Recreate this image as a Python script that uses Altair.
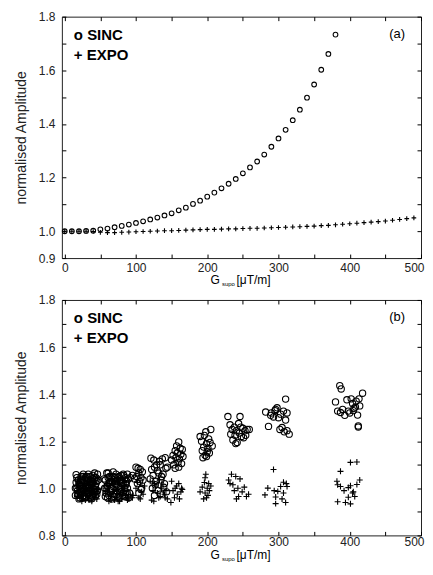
import json
import altair as alt
import pandas as pd

FONT = "Liberation Sans"

# ---------------- panel (a) ----------------
sinc_a_x = [0, 10, 20, 30, 40, 50, 60, 70, 80, 90, 100, 110, 120, 130, 140, 150, 160, 170, 180, 190,
            200, 210, 220, 230, 240, 250, 260, 270, 280, 290, 300, 310, 320, 330, 340, 350, 360, 370, 380]
sinc_a_y = [1.000, 1.000, 1.000, 1.001, 1.002, 1.007, 1.010, 1.015, 1.020, 1.025, 1.031, 1.037, 1.044,
            1.051, 1.059, 1.067, 1.078, 1.088, 1.102, 1.114, 1.129, 1.144, 1.160, 1.177, 1.195, 1.216,
            1.238, 1.260, 1.286, 1.315, 1.346, 1.378, 1.414, 1.453, 1.498, 1.547, 1.602, 1.661, 1.733]
expo_a_x = [0, 10, 20, 30, 40, 50, 60, 70, 80, 90, 100, 110, 120, 130, 140, 150, 160, 170, 180, 190,
            200, 210, 220, 230, 240, 250, 260, 270, 280, 290, 300, 310, 320, 330, 340, 350, 360, 370, 380,
            390, 400, 410, 420, 430, 440, 450, 460, 470, 480, 490]
expo_a_y = [1.000, 1.000, 1.000, 1.000, 0.999, 0.996, 0.995, 0.995, 0.996, 0.997, 0.998, 0.999, 1.000,
            1.001, 1.002, 1.002, 1.003, 1.004, 1.005, 1.006, 1.007, 1.007, 1.008, 1.009, 1.009, 1.010,
            1.011, 1.011, 1.012, 1.013, 1.014, 1.015, 1.016, 1.017, 1.018, 1.019, 1.021, 1.022, 1.024,
            1.026, 1.028, 1.030, 1.032, 1.034, 1.036, 1.038, 1.041, 1.044, 1.047, 1.050]

# ---------------- panel (b): clusters of [x, y] ----------------
sinc_b_20 = [[16, 1.058], [18, 0.99], [20, 1.02], [22, 0.97], [24, 1.04], [26, 1.0], [28, 0.965], [30, 1.03],
             [32, 1.01], [34, 0.98], [36, 1.05], [38, 1.0], [40, 0.975], [42, 1.045], [44, 1.02], [46, 1.06],
             [17, 1.0], [19, 1.035], [21, 0.985], [23, 1.05], [25, 0.96], [27, 1.02], [29, 1.045], [31, 0.99],
             [33, 1.06], [35, 0.97], [37, 1.015], [39, 1.04], [41, 0.995], [43, 0.965], [45, 1.03],
             [16, 1.025], [20, 0.955], [24, 1.005], [28, 0.98], [32, 1.04], [36, 0.96], [40, 1.055], [44, 0.985],
             [18, 0.97], [22, 1.01], [26, 1.05], [30, 0.96], [34, 1.0], [38, 1.03], [42, 1.065], [46, 0.99],
             [21, 1.015], [27, 0.995], [33, 0.975], [39, 1.02],
             [15, 1.0], [19, 0.975], [23, 1.025], [27, 0.97], [31, 1.05], [35, 1.005], [39, 0.965], [43, 1.01],
             [47, 1.035], [17, 1.045], [21, 0.96], [25, 1.035], [29, 1.01], [33, 0.99], [37, 0.955], [41, 1.035],
             [45, 0.975], [15, 0.97], [24, 0.985], [30, 1.0], [36, 1.025], [42, 0.98], [26, 1.06], [34, 1.025],
             [44, 1.045]]
sinc_b_70 = [[56, 1.0], [59, 1.065], [62, 0.97], [65, 1.03], [68, 1.07], [71, 0.99], [74, 1.045], [77, 0.96],
             [80, 1.02], [83, 1.055], [86, 0.985], [89, 1.04], [57, 1.035], [60, 0.96], [63, 1.05], [66, 1.0],
             [69, 0.975], [72, 1.06], [75, 1.01], [78, 1.04], [81, 0.97], [84, 1.0], [87, 1.03], [90, 0.96],
             [58, 0.98], [62, 1.02], [66, 0.955], [70, 1.045], [74, 0.985], [78, 1.0], [82, 1.06], [86, 1.015],
             [92, 1.045], [95, 1.055], [60, 1.01], [65, 0.99], [70, 1.02], [75, 0.965], [80, 1.035], [85, 0.975],
             [55, 1.04], [58, 1.0], [61, 1.045], [64, 0.985], [67, 1.025], [70, 0.965], [73, 1.015], [76, 1.05],
             [79, 0.985], [82, 1.025], [85, 1.045], [88, 1.0], [91, 0.98], [57, 0.965], [63, 1.025], [68, 1.05],
             [73, 0.975], [77, 1.03], [83, 0.965], [88, 1.06], [61, 1.065], [71, 1.03], [79, 1.055], [66, 1.04],
             [86, 1.02]]
sinc_b_105 = [[100, 1.09], [103, 1.085], [106, 1.08], [109, 1.07], [101, 1.05], [104, 1.065], [107, 1.045],
              [110, 1.035], [102, 1.02], [105, 1.03], [108, 1.0], [98, 1.04], [104, 0.98], [107, 0.995]]
sinc_b_130 = [[121, 1.128], [125, 1.12], [129, 1.10], [133, 1.115], [137, 1.125], [141, 1.13], [144, 1.09],
              [122, 1.08], [126, 1.09], [130, 1.075], [134, 1.10], [138, 1.06], [142, 1.085],
              [120, 1.04], [124, 1.055], [128, 1.03], [132, 1.065], [136, 1.05], [140, 1.02],
              [123, 1.0], [127, 1.015], [131, 0.99], [135, 1.035], [139, 1.005], [143, 0.985],
              [126, 0.97], [134, 0.975]]
sinc_b_160 = [[160, 1.197], [157, 1.18], [162, 1.17], [155, 1.16], [165, 1.165], [152, 1.14], [158, 1.15],
              [163, 1.145], [150, 1.12], [156, 1.13], [161, 1.125], [166, 1.135], [153, 1.10], [159, 1.11],
              [164, 1.105], [155, 1.085], [160, 1.09]]
sinc_b_200 = [[205, 1.25], [198, 1.24], [190, 1.22], [196, 1.225], [202, 1.21], [192, 1.2], [199, 1.19],
              [204, 1.195], [195, 1.175], [201, 1.17], [207, 1.18], [193, 1.16], [200, 1.155], [197, 1.14],
              [203, 1.15], [194, 1.13], [199, 1.135]]
sinc_b_240 = [[229, 1.305], [246, 1.305], [232, 1.27], [238, 1.26], [244, 1.275], [250, 1.255], [256, 1.25],
              [235, 1.25], [241, 1.245], [247, 1.26], [253, 1.245], [259, 1.25], [233, 1.23], [239, 1.225],
              [245, 1.235], [251, 1.215], [236, 1.205], [242, 1.195], [248, 1.22], [240, 1.19], [254, 1.225]]
sinc_b_300 = [[282, 1.324], [289, 1.31], [293, 1.303], [296, 1.335], [298, 1.342], [303, 1.315], [307, 1.328],
              [310, 1.379], [312, 1.32], [286, 1.263], [305, 1.258], [310, 1.29], [302, 1.25], [312, 1.245],
              [315, 1.23], [300, 1.30], [308, 1.24], [295, 1.33], [290, 1.32]]
sinc_b_400 = [[386, 1.436], [388, 1.422], [418, 1.404], [380, 1.367], [396, 1.376], [402, 1.38], [413, 1.38],
              [383, 1.328], [387, 1.322], [390, 1.335], [398, 1.328], [411, 1.311], [412, 1.265], [412, 1.26],
              [414, 1.35], [404, 1.36], [406, 1.34], [408, 1.345], [405, 1.33], [409, 1.37], [400, 1.32],
              [393, 1.31]]

expo_b_20 = [[17, 0.99], [20, 1.02], [23, 0.96], [26, 1.0], [29, 0.95], [32, 1.03], [35, 0.97], [38, 0.945],
             [41, 1.01], [44, 0.98], [47, 1.0], [18, 0.965], [22, 1.04], [26, 0.985], [30, 1.01], [34, 0.95],
             [38, 1.025], [42, 0.96], [46, 0.995], [19, 1.0], [25, 0.955], [31, 0.99], [37, 1.005], [43, 0.975],
             [16, 1.01], [28, 1.045], [40, 0.985],
             [21, 0.975], [27, 1.02], [33, 0.96], [39, 1.0], [45, 0.955], [24, 0.945], [36, 1.03], [30, 0.97],
             [42, 1.02], [18, 1.03]]
expo_b_70 = [[57, 0.98], [61, 1.01], [65, 0.95], [69, 1.03], [73, 0.99], [77, 0.945], [81, 1.0], [85, 0.97],
             [89, 0.96], [59, 1.02], [64, 0.965], [69, 0.995], [74, 1.035], [79, 0.975], [84, 1.01], [90, 0.955],
             [62, 0.945], [72, 0.96], [82, 0.99], [95, 0.96], [67, 1.02], [88, 0.95],
             [58, 1.0], [63, 0.985], [70, 0.95], [76, 1.015], [80, 0.955], [86, 0.99], [92, 0.975], [66, 1.04],
             [75, 0.945], [83, 1.025]]
expo_b_105 = [[96, 0.97], [100, 1.0], [104, 0.96], [108, 0.985], [112, 1.01], [102, 1.025], [106, 0.955],
              [110, 0.975]]
expo_b_130 = [[120, 1.03], [124, 0.99], [128, 1.01], [132, 0.96], [136, 1.0], [140, 0.975], [144, 0.955],
              [122, 0.95], [126, 1.02], [130, 0.98], [134, 0.965], [138, 1.015], [142, 0.99],
              [125, 0.945], [133, 1.035], [141, 0.96]]
expo_b_160 = [[150, 1.03], [155, 1.0], [160, 1.02], [165, 0.995], [152, 0.99], [158, 0.975], [163, 0.985],
              [154, 0.96], [161, 0.955], [149, 0.94], [157, 1.01], [164, 1.0]]
expo_b_200 = [[198, 1.06], [197, 1.045], [196, 1.025], [202, 1.02], [193, 1.005], [200, 1.0], [205, 1.01],
              [190, 0.985], [197, 0.98], [203, 0.99], [195, 0.955], [199, 0.96], [201, 0.97]]
expo_b_240 = [[234, 1.06], [240, 1.05], [230, 1.035], [246, 1.04], [236, 1.015], [243, 1.0], [252, 1.005],
              [258, 0.975], [238, 0.99], [249, 0.985], [232, 1.02], [244, 0.965], [255, 0.965], [241, 0.955]]
expo_b_300 = [[293, 1.08], [285, 1.001], [294, 0.99], [303, 1.008], [307, 1.026], [311, 1.02], [312, 1.008],
              [299, 0.987], [307, 0.98], [296, 0.963], [305, 0.955], [310, 0.94], [296, 0.935], [281, 0.972]]
expo_b_400 = [[401, 1.11], [410, 1.112], [387, 1.072], [382, 1.03], [383, 1.015], [387, 1.008], [392, 0.99],
              [398, 1.003], [401, 1.011], [410, 1.016], [414, 1.035], [405, 0.985], [407, 0.965], [398, 0.962],
              [383, 0.943], [394, 0.94], [401, 0.934], [404, 0.98]]

x_ticks = [0, 50, 100, 150, 200, 250, 300, 350, 400, 450, 500]
y_ticks_a = [0.9, 1.0, 1.1, 1.2, 1.3, 1.4, 1.5, 1.6, 1.7, 1.8]
y_labels_a = [0.9, 1.0, 1.2, 1.4, 1.6, 1.8]
y_ticks_b = [0.8, 0.9, 1.0, 1.1, 1.2, 1.3, 1.4, 1.5, 1.6, 1.7, 1.8]
y_labels_b = [0.8, 1.0, 1.2, 1.4, 1.6, 1.8]


def pairs_df(*clusters):
    rows = [p for c in clusters for p in c]
    return pd.DataFrame(rows, columns=["x", "y"])


def txt(s, x, y, size, weight="normal", align="left"):
    return alt.Chart(pd.DataFrame({"t": [s]})).mark_text(
        align=align, baseline="alphabetic", font=FONT, fontSize=size, fontWeight=weight, color="black"
    ).encode(text="t:N", x=alt.value(x), y=alt.value(y))


def panel(sinc_df, expo_df, ydom, yticks, ylabels, tag, h, title_dy, csize, xsize, xpad):
    xscale = alt.Scale(domain=[-4, 500], nice=False, zero=False)
    yscale = alt.Scale(domain=ydom, nice=False, zero=False)
    ylab = "indexof(%s, datum.value) >= 0 ? format(datum.value, '.1f') : ''" % json.dumps(ylabels)
    common = dict(offset=-4, tickSize=4, domain=False, grid=False, tickColor="black", tickWidth=1,
                  labelFont=FONT, labelFontSize=12, labelColor="#222", labelOverlap=False, labelFlush=False)
    sinc = alt.Chart(sinc_df).mark_point(
        shape="circle", filled=False, color="black", opacity=1, strokeWidth=1.1, size=csize
    ).encode(
        x=alt.X("x:Q", scale=xscale, axis=alt.Axis(
            orient="bottom", values=x_ticks, title=None, labelPadding=xpad,
            labelOffset={"condition": {"test": "datum.value == 500", "value": -7}, "value": 0},
            labelExpr="datum.value % 100 == 0 ? datum.label : ''", **common)),
        y=alt.Y("y:Q", scale=yscale, axis=alt.Axis(
            orient="left", values=yticks, labelPadding=7, labelExpr=ylab,
            title="normalised Amplitude", titleFont=FONT, titleFontSize=14, titleFontWeight="normal",
            titleColor="#222", titlePadding=10, **common)),
    )
    expo = alt.Chart(expo_df).mark_point(
        shape="M-1,0L1,0M0,-1L0,1", filled=False, color="black", opacity=1, strokeWidth=1.1, size=xsize
    ).encode(
        x=alt.X("x:Q", scale=xscale, axis=alt.Axis(orient="top", values=x_ticks, labels=False, title=None, **common)),
        y=alt.Y("y:Q", scale=yscale, axis=alt.Axis(orient="right", values=yticks, labels=False, title=None, **common)),
    )
    layers = [
        sinc, expo,
        txt("o SINC", 12, 23, 15, "bold"),
        txt("+ EXPO", 12, 43, 15, "bold"),
        txt(tag, 344, 21, 13, align="right"),
        txt("G", 149, h + title_dy, 12),
        txt("supo", 160.5, h + title_dy + 2, 6),
        txt("[\u03bcT/m]", 175, h + title_dy, 12),
    ]
    return alt.layer(*layers).resolve_axis(x="independent", y="independent").properties(width=360, height=h)


top = panel(pairs_df(list(zip(sinc_a_x, sinc_a_y))), pairs_df(list(zip(expo_a_x, expo_a_y))),
            [0.9, 1.8], y_ticks_a, y_labels_a, "(a)", 242, 26, 22, 22, 4)
bottom = panel(
    pairs_df(sinc_b_20, sinc_b_70, sinc_b_105, sinc_b_130, sinc_b_160, sinc_b_200, sinc_b_240, sinc_b_300, sinc_b_400),
    pairs_df(expo_b_20, expo_b_70, expo_b_105, expo_b_130, expo_b_160, expo_b_200, expo_b_240, expo_b_300, expo_b_400),
    [0.8, 1.8], y_ticks_b, y_labels_b, "(b)", 236, 24, 40, 36, 1.5)

chart = alt.vconcat(top, bottom, spacing=42, bounds="flush").properties(
    padding={"left": 5, "top": 1, "right": 0, "bottom": 0},
    background="white",
).configure_view(stroke="#222", strokeWidth=1)

chart.save("out.html", embed_options={"renderer": "svg", "actions": False})
